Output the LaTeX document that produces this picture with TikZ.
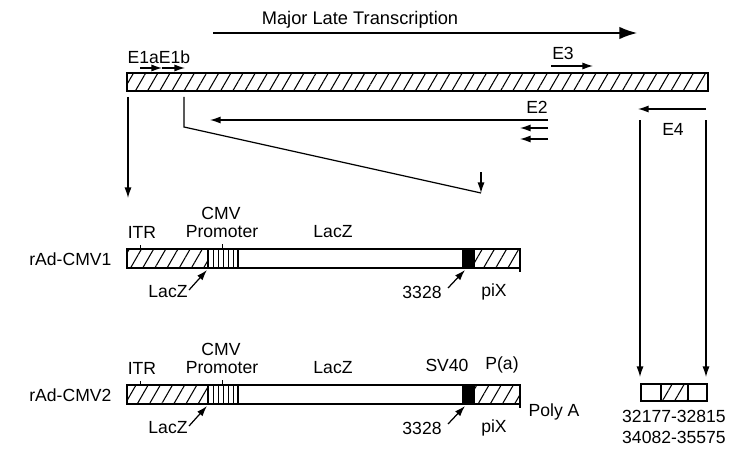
\documentclass[tikz,border=0pt]{standalone}
\usepackage{fontspec}
\setmainfont{Liberation Sans}
\usetikzlibrary{arrows.meta,patterns.meta}

\tikzset{
  lbl/.style={font=\fontsize{10}{12}\selectfont, inner sep=0pt},
  hatched/.style={pattern={Lines[angle=60,distance=6pt,line width=0.6pt]}},
  arr/.style={-{Latex[length=6pt,width=4pt]}},
  bigarr/.style={-{Latex[length=10pt,width=7pt]}},
}

\begin{document}
\begin{tikzpicture}[x=0.02cm,y=-0.02cm,line width=0.7pt]
        \useasboundingbox (0,0) rectangle (750,473);

        % adenovirus genome
        \draw[hatched] (127,73) rectangle (708,91);
        \node[lbl,font=\fontsize{10.4}{12}\selectfont] (mlt) at (360,20) {Major Late Transcription};
        \coordinate (mlt-s) at (213,33);
        \coordinate (mlt-e) at (637,33);
        \draw[bigarr] (mlt-s) -- (mlt-e);

        \node[lbl,anchor=west] (e1) at (127,57) {E1aE1b};
        \coordinate (e1a-s) at (140,68);
        \coordinate (e1a-e) at (162,68);
        \coordinate (e1b-e) at (185,68);
        \draw[arr] (e1a-s) -- (e1a-e);
        \draw[arr] (e1a-e) -- (e1b-e);

        \node[lbl] (e3) at (563,53) {E3};
        \coordinate (e3-s) at (551,66);
        \coordinate (e3-e) at (593,66);
        \draw[arr] (e3-s) -- (e3-e);

        \node[lbl] (e2) at (537,107) {E2};
        \coordinate (e2-s) at (548,120);
        \coordinate (e2-e) at (210,120);
        \draw[arr] (e2-s) -- (e2-e);
        \foreach \y in {128,139}
            \draw[arr] (548,\y) -- (520,\y);

        \node[lbl] (e4) at (673,129) {E4};
        \coordinate (e4-s) at (706,109);
        \coordinate (e4-e) at (638,109);
        \draw[arr] (e4-s) -- (e4-e);

        % deletion of E1
        \coordinate (del-a) at (184,97);
        \coordinate (del-b) at (184,127);
        \coordinate (del-c) at (481,193);
        \draw (del-a) -- (del-b) -- (del-c);
        \coordinate (del-t) at (481,172);
        \draw[arr] (del-t) -- (del-c);

        \coordinate (left-s) at (128,97);
        \coordinate (left-e) at (128,198);
        \draw[arr] (left-s) -- (left-e);

        % E4 region
        \coordinate (e4l-s) at (640,120);
        \coordinate (e4l-e) at (640,377);
        \coordinate (e4r-s) at (706,120);
        \coordinate (e4r-e) at (706,377);
        \draw[arr] (e4l-s) -- (e4l-e);
        \draw[arr] (e4r-s) -- (e4r-e);

        \draw (641,384) rectangle (707,401);
        \draw[hatched] (661,384) rectangle (688,401);
        \node[lbl] (pos1) at (674,416) {32177-32815};
        \node[lbl] (pos2) at (674,437) {34082-35575};

        % recombinant constructs
        \foreach \y/\n in {249/1,385/2} {
            \draw (127,\y) rectangle (520,\y+19);
            \draw[hatched] (127,\y) rectangle (208,\y+19);
            \foreach \x in {213,218,...,233}
                \draw[line width=0.5pt] (\x,\y) -- (\x,\y+19);
            \draw (238,\y) -- (238,\y+19);
            \fill (462,\y) rectangle (474,\y+19);
            \draw[hatched] (474,\y) rectangle (520,\y+19);
            \draw (520,\y+19) -- (520,\y+23);
            \draw[line width=0.5pt] (140,\y-4) -- (140,\y);
            \draw[line width=0.5pt] (222,\y-5) -- (222,\y);

            \node[lbl,anchor=east] (name\n) at (112,\y+10) {rAd-CMV\n};
            \node[lbl] (itr\n) at (142,\y-17) {ITR};
            \node[lbl] (cmv\n) at (221,\y-36) {CMV};
            \node[lbl] (prom\n) at (222,\y-17) {Promoter};
            \node[lbl] (lacz\n) at (333,\y-17) {LacZ};
            \node[lbl] (laczb\n) at (168,\y+43) {LacZ};
            \node[lbl] (num\n) at (422,\y+43) {3328};
            \node[lbl] (pix\n) at (494,\y+43) {piX};
            \coordinate (lz-s\n) at (189,\y+41);
            \coordinate (lz-e\n) at (207,\y+21);
            \draw[arr] (lz-s\n) -- (lz-e\n);
            \coordinate (nm-s\n) at (448,\y+39);
            \coordinate (nm-e\n) at (465,\y+21);
            \draw[arr] (nm-s\n) -- (nm-e\n);
        }
        \node[lbl] (sv40) at (447,365) {SV40};
        \node[lbl] (pa) at (502,365) {P(a)};
        \node[lbl,anchor=west] (polya) at (528,412) {Poly A};
    \end{tikzpicture}
\end{document}
